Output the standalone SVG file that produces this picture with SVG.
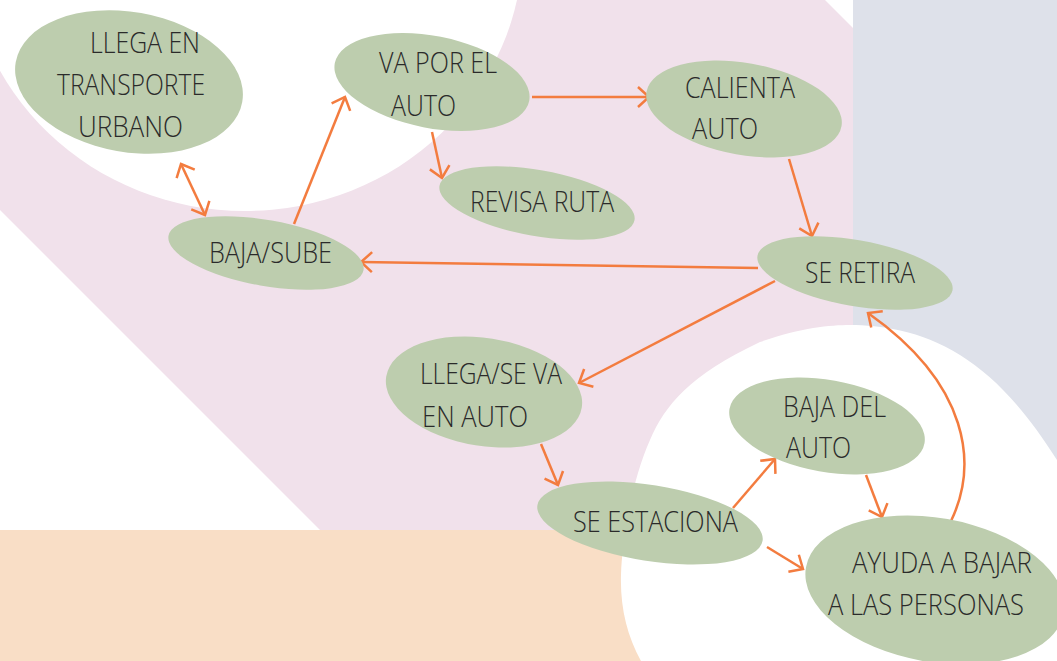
<svg xmlns="http://www.w3.org/2000/svg" width="1057" height="661" viewBox="0 0 1057 661">
<style>
.node ellipse{fill:#bdcdae}
.node text{font-family:"Open Sans","Liberation Sans",sans-serif;font-weight:300;font-size:29px;fill:#2a2a2a}
.edge{fill:none;stroke:#f37c3f;stroke-width:2.5;marker-end:url(#ah)}
</style>
<defs>
<marker id="ah" markerUnits="userSpaceOnUse" markerWidth="24" markerHeight="24" viewBox="0 0 24 24" refX="14" refY="12" orient="auto-start-reverse">
<path d="M3,2 L14,12 L3,22" fill="none" stroke="#f37c3f" stroke-width="2.5"/>
</marker>
</defs>
<g id="background">
<rect x="0" y="0" width="1057" height="661" fill="#ffffff"/>
<polygon points="0,0 825,0 1486,661 451,661 0,210" fill="#f1e1eb"/>
<rect x="853" y="0" width="204" height="661" fill="#dee1ea"/>
<rect x="0" y="530" width="720" height="131" fill="#f9dec6"/>
<ellipse cx="245" cy="-55" rx="278" ry="266" fill="#ffffff"/>
<path d="M645,668 C628,640 620,610 621,575 C622,540 632,480 650,440 C665,405 690,375 760,342 C800,328 830,325 850,325 C880,325 920,330 960,355 C1000,380 1035,420 1075,490 L1075,670 Z" fill="#ffffff"/>
</g>
<g id="connectors">
<line class="edge" x1="181" y1="164" x2="205" y2="215" style="marker-start:url(#ah)"/>
<line class="edge" x1="294" y1="224" x2="345" y2="97"/>
<line class="edge" x1="532" y1="97" x2="649" y2="97"/>
<line class="edge" x1="432" y1="132" x2="442" y2="178"/>
<line class="edge" x1="789" y1="159" x2="812" y2="236"/>
<line class="edge" x1="758" y1="268" x2="361" y2="262"/>
<line class="edge" x1="775" y1="281" x2="579" y2="383"/>
<line class="edge" x1="541" y1="444" x2="558" y2="485"/>
<line class="edge" x1="733" y1="508" x2="775" y2="459"/>
<line class="edge" x1="767" y1="547" x2="803" y2="569"/>
<line class="edge" x1="866" y1="475" x2="882" y2="517"/>
<path class="edge" d="M951,521 C978,465 970,385 868,313"/>
</g>
<g id="n1" class="node">
<ellipse cx="129" cy="82" rx="115" ry="70" transform="rotate(10 129 82)"/>
<text x="90" y="53" textLength="110" lengthAdjust="spacingAndGlyphs">LLEGA EN</text>
<text x="57" y="95" textLength="148" lengthAdjust="spacingAndGlyphs">TRANSPORTE</text>
<text x="78" y="137" textLength="105" lengthAdjust="spacingAndGlyphs">URBANO</text>
</g>
<g id="n2" class="node">
<ellipse cx="432" cy="82" rx="99" ry="46" transform="rotate(11 432 82)"/>
<text x="379" y="73" textLength="118" lengthAdjust="spacingAndGlyphs">VA POR EL</text>
<text x="391" y="116" textLength="65" lengthAdjust="spacingAndGlyphs">AUTO</text>
</g>
<g id="n3" class="node">
<ellipse cx="744" cy="109" rx="99" ry="46" transform="rotate(10 744 109)"/>
<text x="685" y="98" textLength="110" lengthAdjust="spacingAndGlyphs">CALIENTA</text>
<text x="692" y="139" textLength="66" lengthAdjust="spacingAndGlyphs">AUTO</text>
</g>
<g id="n4" class="node">
<ellipse cx="537" cy="203" rx="99" ry="33" transform="rotate(10 537 203)"/>
<text x="470" y="212" textLength="144" lengthAdjust="spacingAndGlyphs">REVISA RUTA</text>
</g>
<g id="n5" class="node">
<ellipse cx="266" cy="253" rx="99" ry="33" transform="rotate(10 266 253)"/>
<text x="209" y="263" textLength="123" lengthAdjust="spacingAndGlyphs">BAJA/SUBE</text>
</g>
<g id="n6" class="node">
<ellipse cx="855" cy="273" rx="99" ry="33" transform="rotate(10 855 273)"/>
<text x="805" y="283" textLength="110" lengthAdjust="spacingAndGlyphs">SE RETIRA</text>
</g>
<g id="n7" class="node">
<ellipse cx="484" cy="392" rx="99" ry="54" transform="rotate(9 484 392)"/>
<text x="420" y="384" textLength="142" lengthAdjust="spacingAndGlyphs">LLEGA/SE VA</text>
<text x="422" y="427" textLength="106" lengthAdjust="spacingAndGlyphs">EN AUTO</text>
</g>
<g id="n8" class="node">
<ellipse cx="650" cy="523" rx="114" ry="38" transform="rotate(9 650 523)"/>
<text x="573" y="532" textLength="165" lengthAdjust="spacingAndGlyphs">SE ESTACIONA</text>
</g>
<g id="n9" class="node">
<ellipse cx="827" cy="426" rx="99" ry="46" transform="rotate(10 827 426)"/>
<text x="783" y="417" textLength="103" lengthAdjust="spacingAndGlyphs">BAJA DEL</text>
<text x="786" y="458" textLength="65" lengthAdjust="spacingAndGlyphs">AUTO</text>
</g>
<g id="n10" class="node">
<ellipse cx="935" cy="590" rx="131" ry="72" transform="rotate(10 935 590)"/>
<text x="852" y="573" textLength="180" lengthAdjust="spacingAndGlyphs">AYUDA A BAJAR</text>
<text x="828" y="615" textLength="196" lengthAdjust="spacingAndGlyphs">A LAS PERSONAS</text>
</g>
</svg>
